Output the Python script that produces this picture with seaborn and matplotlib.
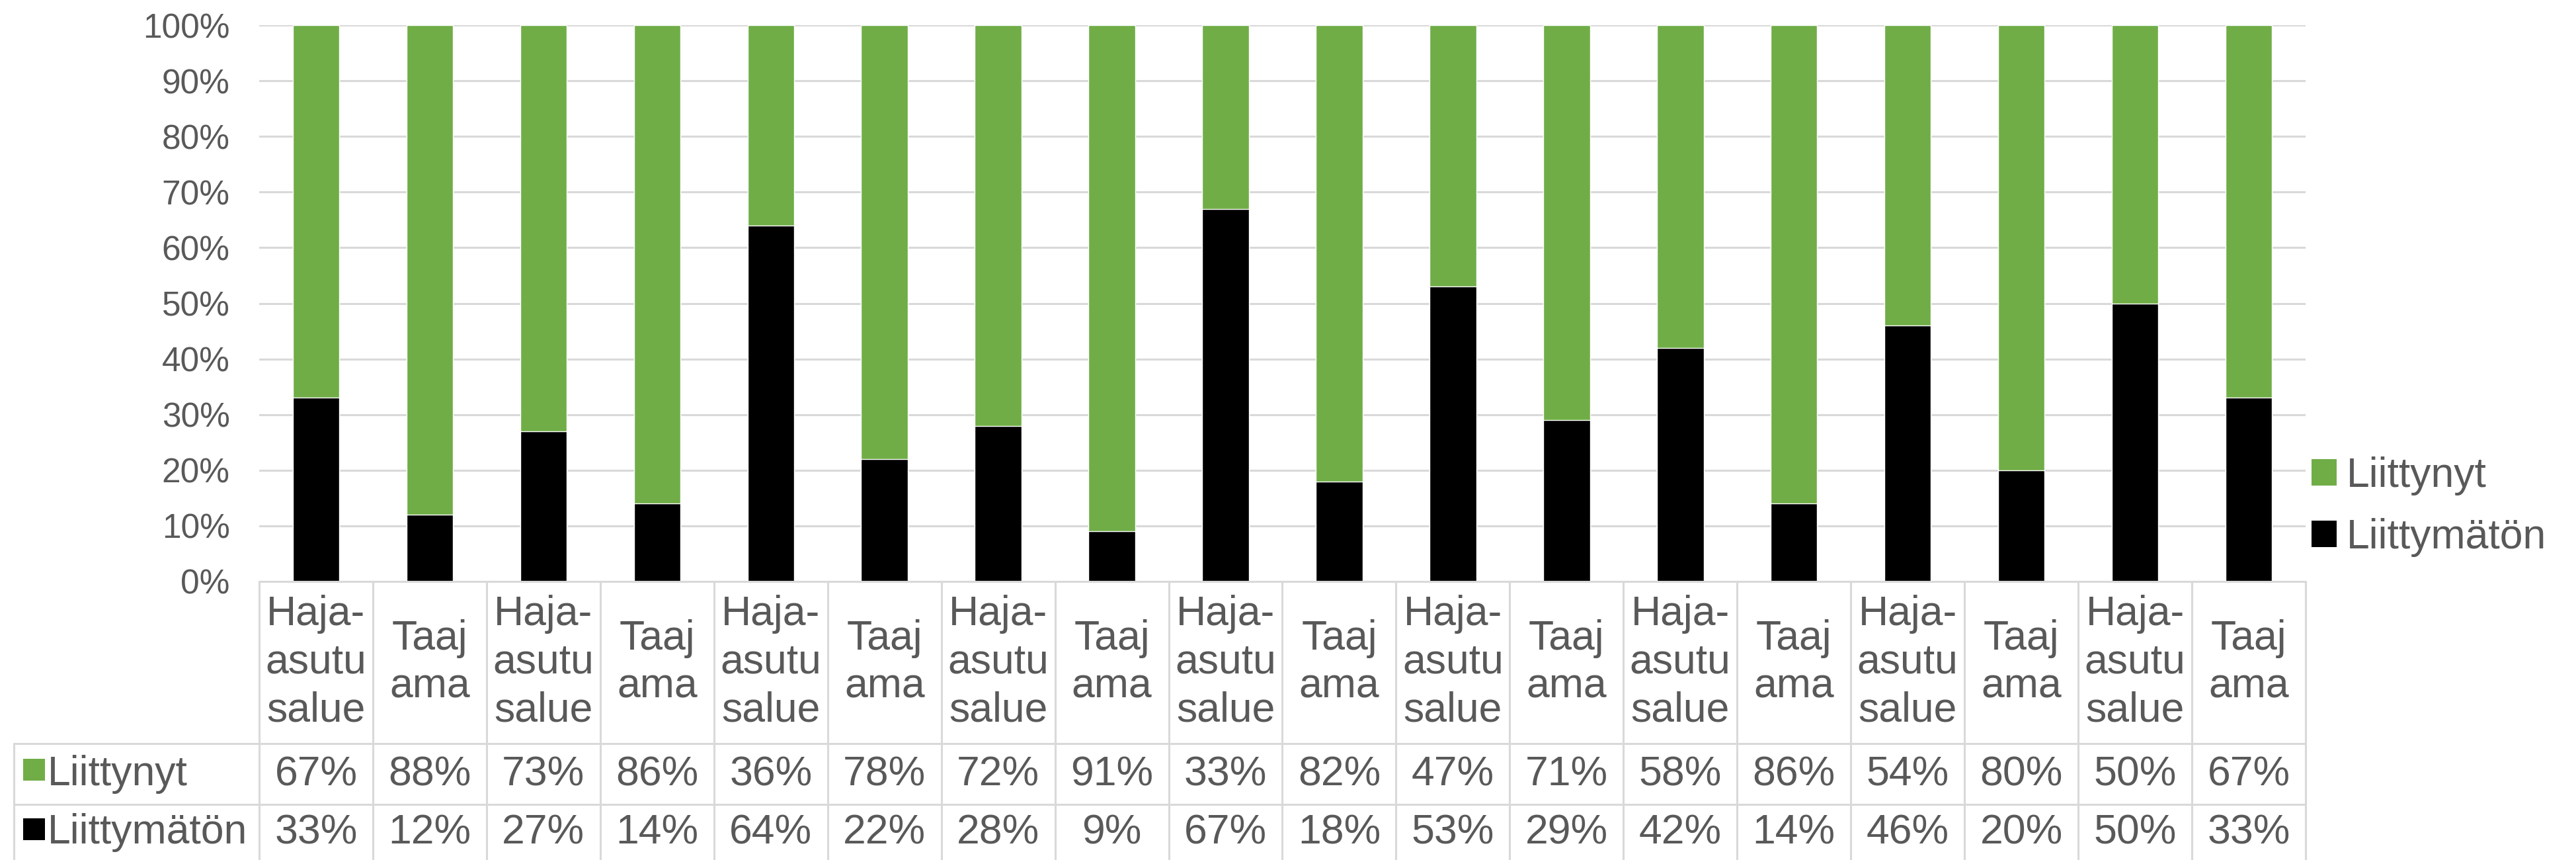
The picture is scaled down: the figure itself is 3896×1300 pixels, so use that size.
import numpy as np
import pandas as pd
import matplotlib
matplotlib.use("Agg")
import matplotlib.pyplot as plt
import matplotlib.transforms as mtransforms
from matplotlib.patches import Patch, Rectangle
from matplotlib.lines import Line2D
from matplotlib.ticker import PercentFormatter
import seaborn as sns

HAJA = "Haja-\nasutu\nsalue"
TAAJ = "Taaj\nama"
categories = [HAJA, TAAJ, HAJA, TAAJ, HAJA, TAAJ, HAJA, TAAJ, HAJA,
              TAAJ, HAJA, TAAJ, HAJA, TAAJ, HAJA, TAAJ, HAJA, TAAJ]
liittynyt = [67, 88, 73, 86, 36, 78, 72, 91, 33, 82, 47, 71, 58, 86, 54, 80, 50, 67]
liittymaton = [33, 12, 27, 14, 64, 22, 28, 9, 67, 18, 53, 29, 42, 14, 46, 20, 50, 33]
series_names = ["Liittynyt", "Liittymätön"]

GREEN = "#70AD47"
BLACK = "#000000"
TEXT = "#595959"
GRID = "#D9D9D9"

sns.set_style("white")
plt.rcParams["font.family"] = ["Liberation Sans", "DejaVu Sans"]

W, H = 3896, 1300
fig = plt.figure(figsize=(W / 100, H / 100), dpi=100)
fig.patch.set_facecolor("white")

# plot area in pixels
px_left, px_right, px_top, px_bottom = 392, 3487, 38, 879
ax = fig.add_axes([px_left / W, 1 - px_bottom / H,
                   (px_right - px_left) / W, (px_bottom - px_top) / H])

n = len(categories)
df = pd.DataFrame({
    "pos": np.arange(n),
    "total": np.array(liittynyt) + np.array(liittymaton),
    "bottom": liittymaton,
})

sns.barplot(data=df, x="pos", y="total", color=GREEN, width=0.41,
            saturation=1, errorbar=None, ax=ax, zorder=2)
sns.barplot(data=df, x="pos", y="bottom", color=BLACK, width=0.41,
            saturation=1, errorbar=None, ax=ax, zorder=3)

ax.set_xlim(-0.5, n - 0.5)
ax.set_ylim(0, 100)
ax.set_yticks(np.arange(0, 101, 10))
ax.yaxis.set_major_formatter(PercentFormatter(100, decimals=0))
ax.tick_params(axis="y", length=0, pad=32, labelsize=37, labelcolor=TEXT)
ax.set_xticks([])
ax.set_xlabel("")
ax.set_ylabel("")
ax.yaxis.grid(True, color=GRID, linewidth=2.2, zorder=0)
ax.set_axisbelow(True)
for spine in ax.spines.values():
    spine.set_visible(False)

# data table under the chart
trans = mtransforms.blended_transform_factory(ax.transData, fig.transFigure)
fy = lambda p: 1 - p / H
y_head_top, y_row1, y_row2, y_end = fy(879), fy(1124), fy(1216), fy(1300)
tbl_left = 21 / W
x_right_fig = fig.transFigure.inverted().transform(
    ax.transData.transform((n - 0.5, 0)))[0]
x_left_fig = fig.transFigure.inverted().transform(
    ax.transData.transform((-0.5, 0)))[0]

line_kw = dict(color=GRID, linewidth=2.2, clip_on=False)
for k in range(n + 1):
    fig.add_artist(Line2D([k - 0.5, k - 0.5], [y_head_top, y_end],
                          transform=trans, **line_kw))
fig.add_artist(Line2D([x_left_fig, x_right_fig], [y_head_top, y_head_top],
                      transform=fig.transFigure, **line_kw))
for yy in (y_row1, y_row2):
    fig.add_artist(Line2D([tbl_left, x_right_fig], [yy, yy],
                          transform=fig.transFigure, **line_kw))
fig.add_artist(Line2D([tbl_left, tbl_left], [y_row1, y_end],
                      transform=fig.transFigure, **line_kw))

FS = 45
for i, cat in enumerate(categories):
    fig.text(i, (y_head_top + y_row1) / 2, cat, transform=trans,
             ha="center", va="center", multialignment="center",
             linespacing=1.3, fontsize=FS, color=TEXT)
    fig.text(i, fy(1187), f"{liittynyt[i]}%", transform=trans,
             ha="center", va="baseline", fontsize=FS, color=TEXT)
    fig.text(i, fy(1275), f"{liittymaton[i]}%", transform=trans,
             ha="center", va="baseline", fontsize=FS, color=TEXT)

for name, col, base, sq_top in [(series_names[0], GREEN, 1187, 1147),
                                (series_names[1], BLACK, 1275, 1237)]:
    fig.add_artist(Rectangle((35 / W, fy(sq_top + 33)), 33 / W, 33 / H,
                             transform=fig.transFigure, facecolor=col,
                             edgecolor="none"))
    fig.text(72 / W, fy(base), name, ha="left", va="baseline",
             fontsize=FS, color=TEXT)

handles = [Patch(facecolor=GREEN, edgecolor="none", label=series_names[0]),
           Patch(facecolor=BLACK, edgecolor="none", label=series_names[1])]
leg = fig.legend(handles=handles, loc="center left",
                 bbox_to_anchor=(3496 / W, fy(766)), frameon=False,
                 fontsize=FS, handlelength=0.6, handleheight=0.6,
                 handletextpad=0.25, labelspacing=0.55, borderpad=0,
                 borderaxespad=0)
plt.setp(leg.get_texts(), color=TEXT)

fig.savefig("out.png", dpi=100, facecolor="white")
plt.close(fig)
